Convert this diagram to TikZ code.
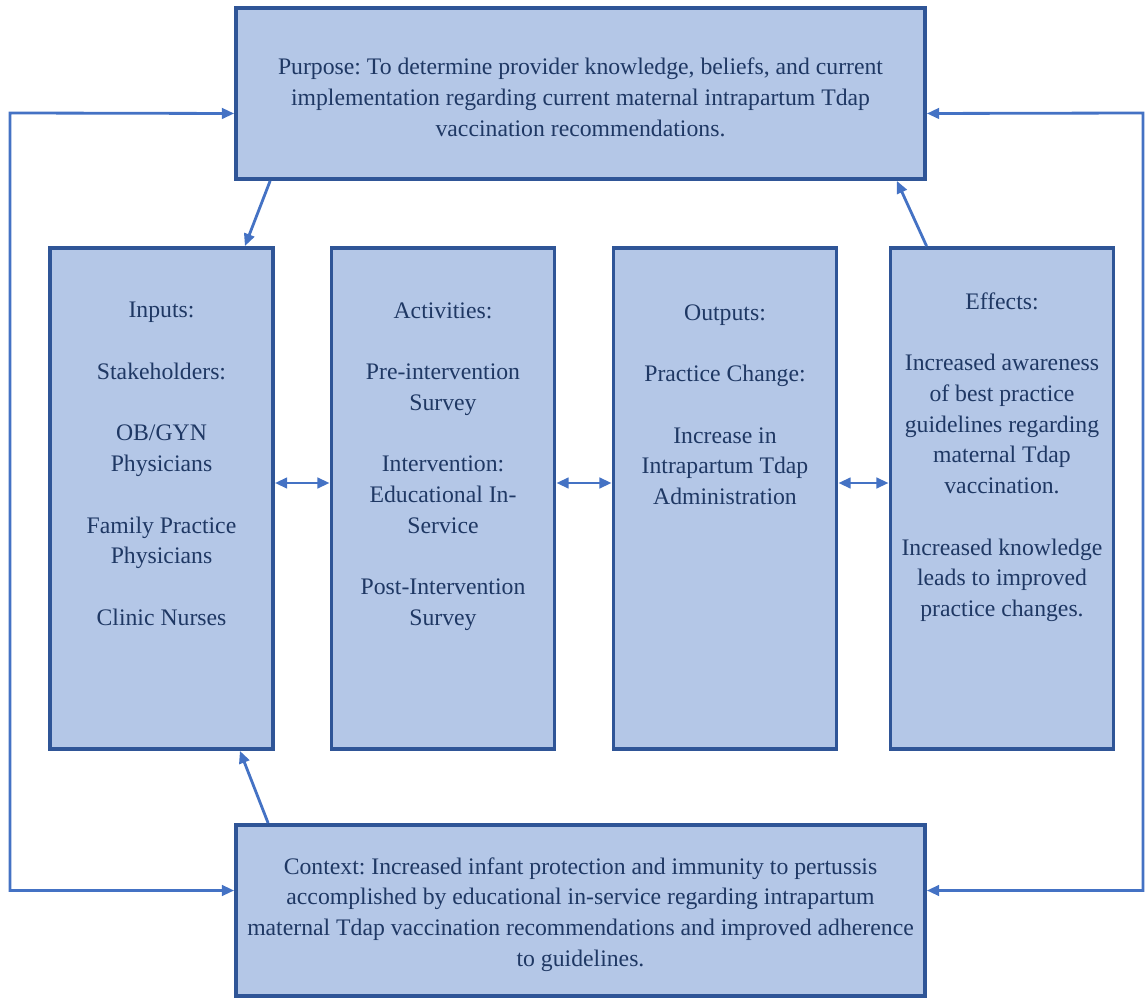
\documentclass[tikz,border=0pt]{standalone}
\usepackage{fontspec}
\setmainfont{Liberation Serif}
\usepackage{xcolor}
\usepackage{tikz}
\usetikzlibrary{positioning, arrows.meta}

\definecolor{boxfill}{HTML}{B4C7E7}
\definecolor{boxedge}{HTML}{2F5597}
\definecolor{linkblue}{HTML}{4472C4}
\definecolor{textnavy}{HTML}{1F3864}

\tikzset{
    panel/.style={draw=boxedge, fill=boxfill, line width=2.2pt, inner sep=0pt},
    widepanel/.style={panel, minimum width=13.78cm, minimum height=3.42cm},
    tallpanel/.style={panel, minimum width=4.46cm, minimum height=10.02cm},
    paneltext/.style={text=textnavy, align=center, inner sep=0pt, font=\fontsize{13.5}{17.5}\selectfont\frenchspacing},
    link/.style={draw=linkblue, line width=1.6pt, arrows={-Triangle[length=7pt, width=6pt]}},
    twolink/.style={draw=linkblue, line width=1.6pt, arrows={Triangle[length=7pt, width=6pt]-Triangle[length=7pt, width=6pt]}}
}

\begin{document}
\begin{tikzpicture}[x=0.02cm, y=-0.02cm]
        \useasboundingbox (0,0) rectangle (1146,999);

        % Boxes
        \node[widepanel] (purpose) at (580.5,93.5) {};
        \node[tallpanel] (inputs) at (161.5,498.5) {};
        \node[tallpanel] (activities) at (443,498.5) {};
        \node[tallpanel] (outputs) at (725,498.5) {};
        \node[tallpanel] (effects) at (1002,498.5) {};
        \node[widepanel] (context) at (580.5,910.5) {};

        % Texts
        \node[paneltext] (purposetext) at ([yshift=-0.08cm]purpose.center) {Purpose: To determine provider knowledge, beliefs, and current\\implementation regarding current maternal intrapartum Tdap\\vaccination recommendations.};
        \node[paneltext, below=1.12cm of inputs.north] (inputstext) {Inputs:\\[17.5pt]Stakeholders:\\[17.5pt]OB/GYN\\Physicians\\[17.5pt]Family Practice\\Physicians\\[17.5pt]Clinic Nurses};
        \node[paneltext, below=1.12cm of activities.north] (activitiestext) {Activities:\\[17.5pt]Pre-intervention\\Survey\\[17.5pt]Intervention:\\Educational In-\\Service\\[17.5pt]Post-Intervention\\Survey};
        \node[paneltext, below=1.16cm of outputs.north] (outputstext) {Outputs:\\[17.5pt]Practice Change:\\[17.5pt]Increase in\\Intrapartum Tdap\\Administration};
        \node[paneltext, below=0.92cm of effects.north] (effectstext) {Effects:\\[17.5pt]Increased awareness\\of best practice\\guidelines regarding\\maternal Tdap\\vaccination.\\[17.5pt]Increased knowledge\\leads to improved\\practice changes.};
        \node[paneltext] (contexttext) at ([yshift=-0.08cm]context.center) {Context: Increased infant protection and immunity to pertussis\\accomplished by educational in-service regarding intrapartum\\maternal Tdap vaccination recommendations and improved adherence\\to guidelines.};

        % Loops
        \coordinate (loopleft) at (10,113);
        \coordinate (loopright) at (1143,113);
        \draw[twolink] ([yshift=-0.4cm]purpose.west) -- (loopleft) |- ([yshift=0.4cm]context.west);
        \draw[twolink] ([yshift=-0.4cm]purpose.east) -- (loopright) |- ([yshift=0.4cm]context.east);

        % Slanted arrows
        \draw[link] ([xshift=0.72cm]purpose.south west) -- ([xshift=-0.6cm]inputs.north east);
        \draw[link] ([xshift=0.76cm]effects.north west) -- ([xshift=-0.6cm]purpose.south east);
        \draw[link] ([xshift=0.68cm]context.north west) -- ([xshift=-0.7cm]inputs.south east);

        % Between the columns
        \draw[twolink] ([yshift=0.31cm]inputs.east) -- ([yshift=0.31cm]activities.west);
        \draw[twolink] ([yshift=0.31cm]activities.east) -- ([yshift=0.31cm]outputs.west);
        \draw[twolink] ([yshift=0.31cm]outputs.east) -- ([yshift=0.31cm]effects.west);

    \end{tikzpicture}
\end{document}
